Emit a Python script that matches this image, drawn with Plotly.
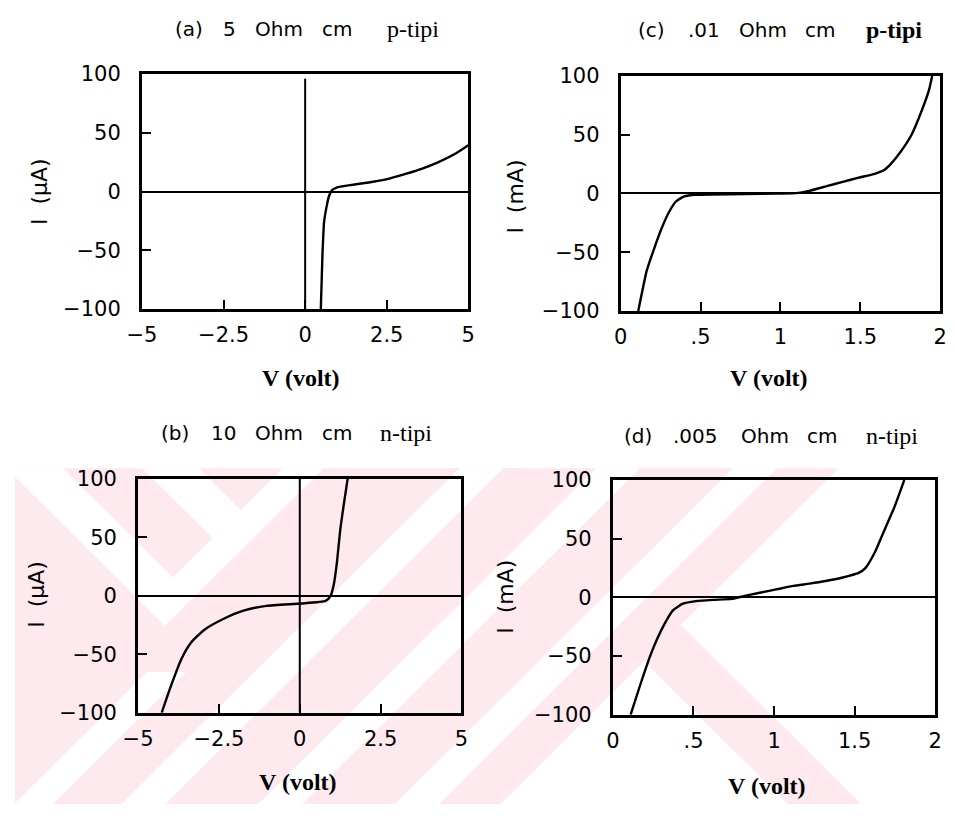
import plotly.graph_objects as go

# ---- data: current-voltage characteristics of four samples ----
V_a = [0.48, 0.53, 0.58, 0.66, 0.73, 0.83, 0.98, 1.38, 2.08, 2.58, 3.08, 3.57, 4.07, 4.57, 5.0]
I_a = [-100, -54, -26, -12.4, -4, 1.4, 3.6, 5.5, 8.3, 11, 15, 19.3, 24.8, 31.7, 39.5]

V_c = [0.11, 0.163, 0.204, 0.255, 0.306, 0.347, 0.398, 0.469, 0.57, 0.78, 0.98, 1.10,
       1.18, 1.29, 1.39, 1.49, 1.59, 1.65, 1.69, 1.755, 1.82, 1.88, 1.93, 1.95]
I_c = [-100, -65.7, -49, -30, -14.9, -6.6, -2.5, -1.1, -0.8, -0.5, 0, 0.3,
       2.2, 6.3, 9.9, 13.5, 16.8, 20, 25, 36, 49.8, 69, 88, 100]

V_b = [-4.27, -3.97, -3.66, -3.36, -2.95, -2.35, -1.74, -1.03, 0.04, 0.80, 0.95,
       1.05, 1.15, 1.25, 1.35, 1.48]
I_b = [-100, -76, -54, -40, -29, -19.6, -12.7, -8.6, -6.6, -4.4, -0.3,
       9.4, 28.8, 56, 76, 100]

V_d = [0.11, 0.17, 0.232, 0.273, 0.323, 0.374, 0.434, 0.515, 0.616, 0.737, 0.818,
       0.919, 1.02, 1.12, 1.22, 1.32, 1.42, 1.525, 1.566, 1.626, 1.687, 1.747, 1.808]
I_d = [-100, -74.5, -49.7, -35.9, -22, -11, -5.5, -3.3, -2.2, -1.4, 1.1,
       4.1, 6.9, 9.7, 11.6, 13.8, 16.6, 20.7, 24.8, 38.6, 58, 77, 100]

# extent of the V = 0 guide line in each wide panel (current, same units as the panel)
V0_LINE_I = [(-100, 96), (-100, 100)]

Y_TICKS = [-100, -50, 0, 50, 100]
Y_TICKTEXT = ["\u2212100", "\u221250", "0", "50", "100"]
X_TICKS_WIDE = [-5, -2.5, 0, 2.5, 5]
X_TICKTEXT_WIDE = ["\u22125", "\u22122.5", "0", "2.5", "5"]
X_TICKS_NARROW = [0, 0.5, 1, 1.5, 2]
X_TICKTEXT_NARROW = ["0", ".5", "1", "1.5", "2"]

# panel headings, word by word: sample label, resistivity, unit, unit, conduction type
TITLE_WORDS = [
    ["(a)", "5", "Ohm", "cm"],
    ["(c)", ".01", "Ohm", "cm"],
    ["(b)", "10", "Ohm", "cm"],
    ["(d)", ".005", "Ohm", "cm"],
]
TITLE_TYPE = ["p-tipi", "p-tipi", "n-tipi", "n-tipi"]
Y_LABELS = ["I\u00a0\u00a0(\u03bcA)", "I\u00a0\u00a0(mA)", "I\u00a0\u00a0(\u03bcA)", "I\u00a0\u00a0(mA)"]
X_LABEL = "V (volt)"

W, H = 954, 816
SANS = "DejaVu Sans"
SERIF = "Liberation Serif"
PINK = "rgb(253,233,238)"


def px(x):
    return x / W


def py(y):
    return 1 - y / H


# panel boxes in pixels: (left, right, top, bottom)
boxes = [(130, 464, 64, 306), (620, 947, 66, 308), (126, 457, 481, 722), (612, 942, 482, 724)]

fig = go.Figure()

series = [(V_a, I_a), (V_c, I_c), (V_b, I_b), (V_d, I_d)]
for i, (v, cur) in enumerate(series):
    n = "" if i == 0 else str(i + 1)
    fig.add_trace(go.Scatter(
        x=v, y=cur, mode="lines", xaxis="x" + n, yaxis="y" + n,
        line=dict(color="black", width=2.4, shape="spline", smoothing=0.5),
        showlegend=False, hoverinfo="skip"))

# vertical V = 0 guide lines in the two symmetric-range panels
for n, (lo, hi) in zip(["", "3"], V0_LINE_I):
    fig.add_trace(go.Scatter(
        x=[0, 0], y=[lo, hi], mode="lines", xaxis="x" + n, yaxis="y" + n,
        line=dict(color="black", width=2), showlegend=False, hoverinfo="skip"))

layout = dict(
    width=W, height=H, margin=dict(l=0, r=0, t=0, b=0),
    paper_bgcolor="white", plot_bgcolor="rgba(0,0,0,0)",
    showlegend=False, font=dict(family=SANS, color="black"),
)

for i, (l, r, t, b) in enumerate(boxes):
    n = "" if i == 0 else str(i + 1)
    wide = i in (0, 2)
    layout["xaxis" + n] = dict(
        domain=[px(l), px(r)], anchor="y" + n,
        range=[-5, 5] if wide else [0, 2],
        tickvals=X_TICKS_WIDE if wide else X_TICKS_NARROW,
        ticktext=X_TICKTEXT_WIDE if wide else X_TICKTEXT_NARROW,
        ticks="inside", ticklen=9, tickwidth=2, tickcolor="black",
        showline=True, linecolor="black", linewidth=3, mirror=True,
        showgrid=False, zeroline=False,
        tickfont=dict(family=SANS, size=21, color="black"),
        ticklabelstandoff=5, fixedrange=True,
    )
    layout["yaxis" + n] = dict(
        domain=[py(b), py(t)], anchor="x" + n,
        range=[-100, 100], tickvals=Y_TICKS, ticktext=Y_TICKTEXT,
        ticks="inside", ticklen=9, tickwidth=2, tickcolor="black",
        showline=True, linecolor="black", linewidth=3, mirror=True,
        showgrid=False, zeroline=True, zerolinecolor="black", zerolinewidth=2,
        tickfont=dict(family=SANS, size=21, color="black"),
        ticklabelstandoff=14, fixedrange=True,
    )

fig.update_layout(**layout)

# ---- panel titles and axis labels ----
word_x = [
    [163, 212, 245, 313, 380],
    [637, 688, 740, 808, 870],
    [148, 200, 245, 313, 373],
    [622, 673, 742, 810, 870],
]
title_y = [17, 19, 434, 437]
ylab_pos = [(25, 185), (512, 190), (22, 600), (502, 602)]
xlab_pos = [(293, 377), (772, 377), (290, 793), (770, 797)]

annotations = []
for i in range(4):
    for j, word in enumerate(TITLE_WORDS[i]):
        annotations.append(dict(
            text=word, x=px(word_x[i][j]), y=py(title_y[i]), xref="paper", yref="paper",
            xanchor="left", yanchor="middle", showarrow=False, borderpad=0,
            font=dict(family=SANS, size=20, color="black")))
    ttxt = "<b>" + TITLE_TYPE[i] + "</b>" if i == 1 else TITLE_TYPE[i]
    annotations.append(dict(
        text=ttxt, x=px(word_x[i][4]), y=py(title_y[i]), xref="paper", yref="paper",
        xanchor="left", yanchor="middle", showarrow=False, borderpad=0,
        font=dict(family=SERIF, size=24, color="black")))
    annotations.append(dict(
        text=Y_LABELS[i], x=px(ylab_pos[i][0]), y=py(ylab_pos[i][1]),
        xref="paper", yref="paper", textangle=-90, showarrow=False,
        xanchor="center", yanchor="middle", borderpad=0,
        font=dict(family=SANS, size=22, color="black")))
    annotations.append(dict(
        text="<b>" + X_LABEL + "</b>", x=px(xlab_pos[i][0]), y=py(xlab_pos[i][1]),
        xref="paper", yref="paper", showarrow=False,
        xanchor="center", yanchor="middle", borderpad=0,
        font=dict(family=SERIF, size=24, color="black")))

fig.update_layout(annotations=annotations)


# ---- pale diagonal stripe pattern behind the lower panels ----
def clip_half(poly, a, b, c):
    """Keep the part of a polygon where a*x + b*y <= c."""
    out = []
    if not poly:
        return out
    prev = poly[-1]
    fp = a * prev[0] + b * prev[1] - c
    for cur in poly:
        fc = a * cur[0] + b * cur[1] - c
        if fc <= 0:
            if fp > 0:
                t = fp / (fp - fc)
                out.append((prev[0] + t * (cur[0] - prev[0]), prev[1] + t * (cur[1] - prev[1])))
            out.append(cur)
        elif fp <= 0:
            t = fp / (fp - fc)
            out.append((prev[0] + t * (cur[0] - prev[0]), prev[1] + t * (cur[1] - prev[1])))
        prev, fp = cur, fc
    return out


def clip_box(poly, x0, x1, y0, y1):
    poly = clip_half(poly, -1, 0, -x0)
    poly = clip_half(poly, 1, 0, x1)
    poly = clip_half(poly, 0, -1, -y0)
    return clip_half(poly, 0, 1, y1)


def band(kind, a, b, y0, y1):
    # '/' bands: a <= x + y <= b ; '\\' bands: a <= x - y <= b
    if kind == "/":
        return [(a - y0, y0), (b - y0, y0), (b - y1, y1), (a - y1, y1)]
    return [(a + y0, y0), (b + y0, y0), (b + y1, y1), (a + y1, y1)]


TOP, BOT = 470, 816
pink_parts = [
    clip_box([(0, TOP), (1313 - TOP, TOP), (1313 - BOT, BOT), (0, BOT)], 0, W, TOP, BOT),
    clip_box(band("\\", -25, 50, TOP, BOT), 0, W, TOP, BOT),
]

white_parts = []
s1 = clip_half(band("/", 744, 786, TOP, 640), -1, 1, 479)
white_parts.append(clip_box(s1, 0, W, TOP, BOT))
for a, b in [(-340, -282), (-479, -421)]:
    s = clip_half(band("\\", a, b, TOP, 700), 1, 1, 786)
    white_parts.append(clip_box(s, 0, W, TOP, BOT))
for a in [925, 1065, 1205]:
    white_parts.append(clip_box(band("/", a, a + 45, TOP, BOT), 0, W, TOP, BOT))
white_parts.append(clip_box(band("/", 815, 855, 680, BOT), 0, W, TOP, BOT))

shapes = []
for color, parts in [(PINK, pink_parts), ("white", white_parts)]:
    for poly in parts:
        if len(poly) < 3:
            continue
        path = "M " + " L ".join(f"{px(x):.5f},{py(y):.5f}" for x, y in poly) + " Z"
        shapes.append(dict(type="path", path=path, xref="paper", yref="paper",
                           fillcolor=color, line=dict(width=0), layer="below"))
fig.update_layout(shapes=shapes)

fig.write_html("out.html")
